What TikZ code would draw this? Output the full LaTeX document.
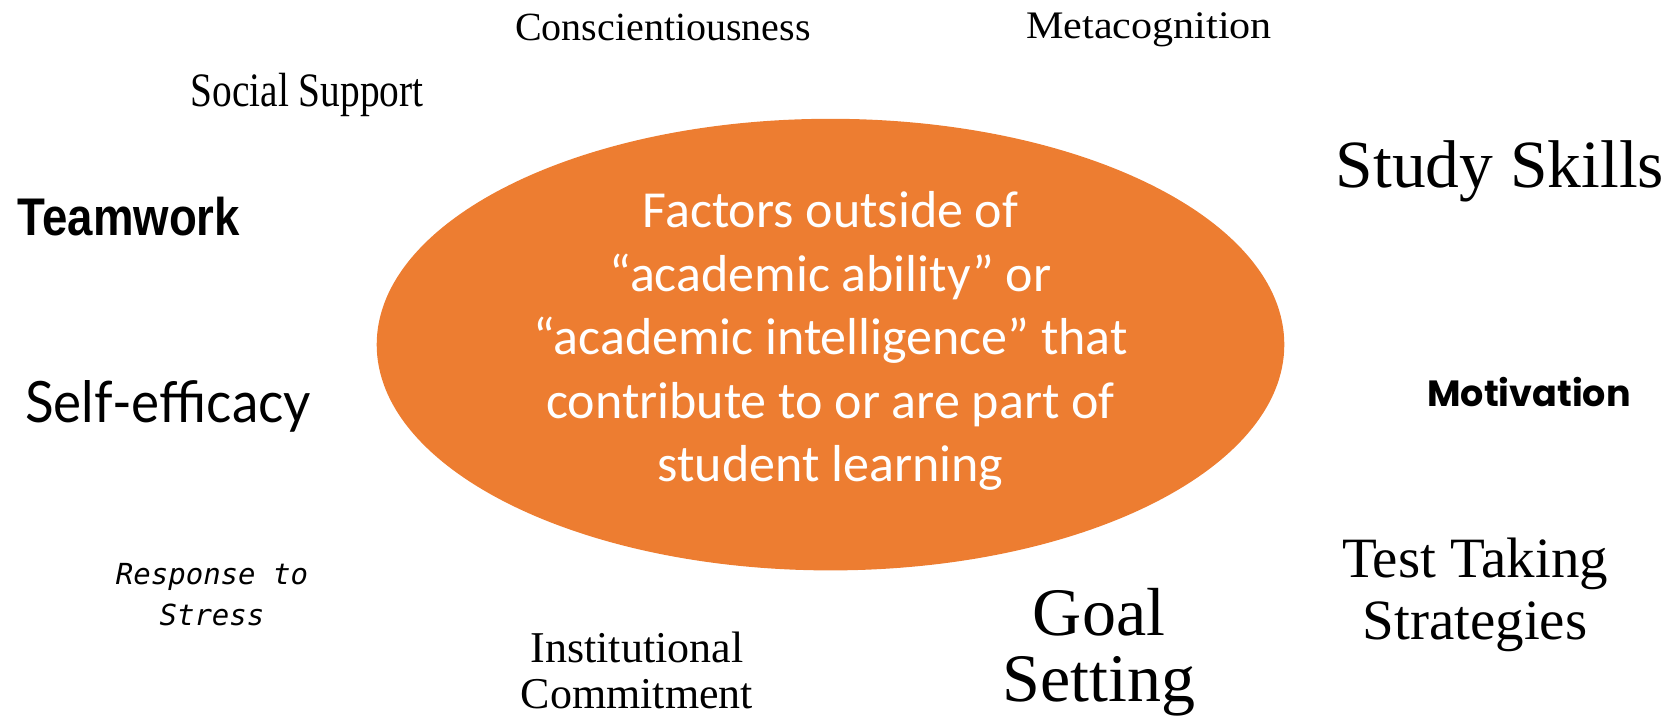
\documentclass[tikz,border=0pt]{standalone}
\usepackage{fontspec}
\setmainfont{Liberation Serif}
\newfontfamily\centrefont{Carlito}
\newfontfamily\narrowserif[FakeStretch=0.82]{Liberation Serif}
\newfontfamily\wideserif[FakeStretch=1.08]{Liberation Serif}
\newfontfamily\bookserif{Liberation Serif}
\newfontfamily\condsans[FakeStretch=0.86]{Liberation Sans}
\newfontfamily\humansans[FakeStretch=0.93]{Lato}
\newfontfamily\geosans{Poppins}
\newfontfamily\monofont{DejaVu Sans Mono}
\definecolor{hub}{HTML}{ED7D31}
\usetikzlibrary{shapes.geometric}
\tikzset{
  factor/.style={align=center, inner sep=0pt, text=black},
  hubshape/.style={ellipse, fill=hub, draw=none, minimum width=907.6pt, minimum height=451.6pt, inner sep=0pt}
}
\begin{document}
\begin{tikzpicture}[x=1pt,y=-1pt]
  \useasboundingbox (0,0) rectangle (1678,722);
  % central ellipse with its caption
  \node[hubshape] (hub) at (830.5,344.6) {};
  \node[align=center, text=white, font=\centrefont\fontsize{52}{63.5}\selectfont] (caption) at (830.5,341)
    {Factors outside of\\“academic ability” or\\“academic intelligence” that\\contribute to or are part of\\student learning};
  % surrounding factors
  \node[factor, font=\bookserif\fontsize{40}{44}\selectfont] (consc) at (663,27) {Conscientiousness};
  \node[factor, font=\wideserif\fontsize{39}{44}\selectfont] (meta) at (1149,30) {Metacognition};
  \node[factor, font=\narrowserif\fontsize{48}{52}\selectfont] (social) at (307,95) {Social Support};
  \node[factor, font=\bookserif\fontsize{67.5}{72}\selectfont] (study) at (1500,171) {Study Skills};
  \node[factor, font=\condsans\bfseries\fontsize{53}{56}\selectfont] (team) at (129,217) {Teamwork};
  \node[factor, font=\humansans\fontsize{57}{62}\selectfont] (self) at (168,406) {Self-efficacy};
  \node[factor, font=\geosans\bfseries\fontsize{36.5}{40}\selectfont] (motiv) at (1529,392) {Motivation};
  \node[factor, font=\monofont\itshape\fontsize{29}{41}\selectfont] (stress) at (212,595) {Response to\\Stress};
  \node[factor, font=\bookserif\fontsize{44}{46}\selectfont] (inst) at (637,670) {Institutional\\Commitment};
  \node[factor, font=\bookserif\fontsize{68}{66}\selectfont] (goal) at (1099,652) {Goal\\Setting};
  \node[factor, font=\bookserif\fontsize{57}{62}\selectfont] (test) at (1475,595) {Test Taking\\Strategies};
\end{tikzpicture}
\end{document}
